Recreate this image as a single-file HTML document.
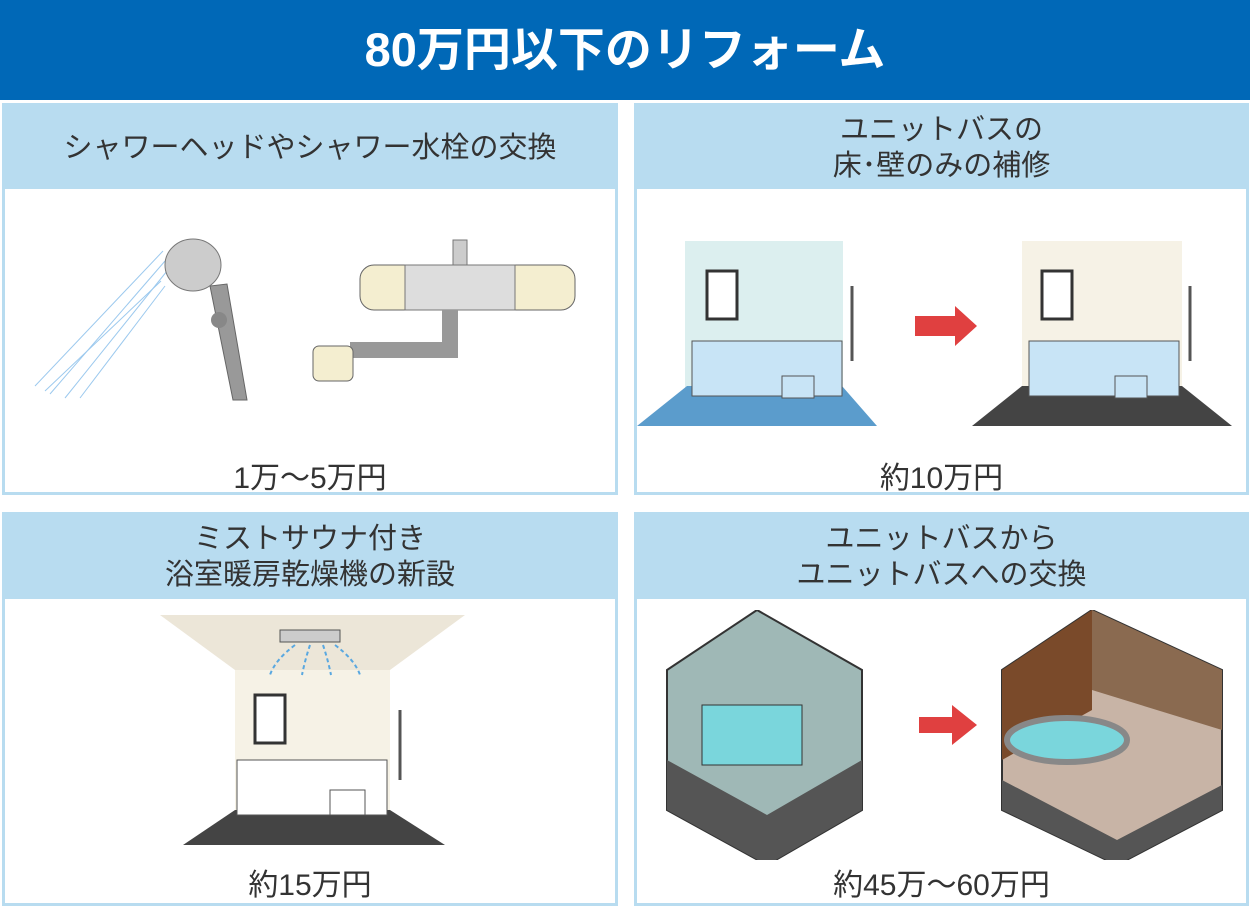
<!DOCTYPE html>
<html><head><meta charset="utf-8"><style>
body{margin:0;width:1250px;height:912px;background:#fff;position:relative;overflow:hidden;font-family:"Liberation Sans","Noto Sans CJK JP",sans-serif;color:#333}
.title{position:absolute;left:0;top:0;width:1250px;height:100px;background:#0068b7;color:#fff;font-weight:bold;font-size:47px;line-height:100px;text-align:center}
.p{position:absolute;border:3px solid #b8dcf0;box-sizing:border-box;background:#fff}
.h{position:absolute;left:0;top:0;right:0;background:#b8dcf0;display:flex;align-items:center;justify-content:center;text-align:center;font-size:29px;line-height:36px}
.pr{position:absolute;left:0;right:0;text-align:center;font-size:30px}
svg{position:absolute;left:0}
</style></head><body>
<div class="title">80万円以下のリフォーム</div>

<div class="p" style="left:2px;top:103px;width:616px;height:392px">
<div class="h" style="height:83px">シャワーヘッドやシャワー水栓の交換</div>
<svg width="610" height="220" style="top:120px">
<g stroke="#9cc9ee" stroke-width="1">
<line x1="158" y1="25" x2="30" y2="160"/><line x1="160" y1="35" x2="45" y2="168"/><line x1="162" y1="45" x2="60" y2="172"/><line x1="156" y1="55" x2="40" y2="165"/><line x1="160" y1="60" x2="75" y2="172"/>
</g>
<path d="M205 60 L228 174 L242 174 L222 58 Z" fill="#999" stroke="#666"/>
<ellipse cx="188" cy="39" rx="28" ry="26" fill="#ccc" stroke="#777"/>
<circle cx="214" cy="94" r="8" fill="#888"/>
<rect x="448" y="14" width="14" height="28" fill="#ccc" stroke="#777"/>
<rect x="355" y="39" width="215" height="45" rx="14" fill="#f4eed0" stroke="#666"/>
<rect x="400" y="39" width="110" height="45" fill="#ddd" stroke="#777"/>
<path d="M445 84 v40 h-100" fill="none" stroke="#999" stroke-width="16"/>
<rect x="308" y="120" width="40" height="35" rx="6" fill="#f4eed0" stroke="#666"/>
</svg>
<div class="pr" style="top:347px">1万〜5万円</div>
</div>

<div class="p" style="left:634px;top:103px;width:615px;height:392px">
<div class="h" style="height:83px">ユニットバスの<br>床･壁のみの補修</div>
<svg width="610" height="210" style="top:130px">
<rect x="48" y="5" width="158" height="150" fill="#dcefef"/>
<polygon points="50,150 205,150 240,190 0,190" fill="#5b9ccc"/>
<rect x="70" y="35" width="30" height="48" fill="#fff" stroke="#333" stroke-width="3"/>
<rect x="55" y="105" width="150" height="55" fill="#c8e4f6" stroke="#555"/>
<rect x="145" y="140" width="32" height="22" fill="#c8e4f6" stroke="#555"/>
<path d="M215 50 v75" stroke="#555" stroke-width="3"/>
<polygon points="278,80 318,80 318,70 340,90 318,110 318,100 278,100" fill="#e04040"/>
<rect x="385" y="5" width="160" height="150" fill="#f6f2e6"/>
<polygon points="385,150 545,150 595,190 335,190" fill="#444"/>
<rect x="405" y="35" width="30" height="48" fill="#fff" stroke="#333" stroke-width="3"/>
<rect x="392" y="105" width="150" height="55" fill="#c8e4f6" stroke="#555"/>
<rect x="478" y="140" width="32" height="22" fill="#c8e4f6" stroke="#555"/>
<path d="M553 50 v75" stroke="#555" stroke-width="3"/>
</svg>
<div class="pr" style="top:347px">約10万円</div>
</div>

<div class="p" style="left:2px;top:512px;width:616px;height:394px">
<div class="h" style="height:84px">ミストサウナ付き<br>浴室暖房乾燥機の新設</div>
<svg width="610" height="250" style="top:100px">
<polygon points="155,0 460,0 385,55 230,55" fill="#ece6d8"/>
<rect x="230" y="55" width="155" height="175" fill="#f6f2e6"/>
<polygon points="230,195 385,195 440,230 178,230" fill="#444"/>
<rect x="275" y="15" width="60" height="12" fill="#ccc" stroke="#555"/>
<g stroke="#5aa8e0" stroke-width="2" fill="none" stroke-dasharray="4 3"><path d="M290 30 q-20 15 -25 30"/><path d="M305 30 q-5 15 -8 30"/><path d="M318 30 q5 15 8 30"/><path d="M330 30 q20 15 25 30"/></g>
<rect x="250" y="80" width="30" height="48" fill="#fff" stroke="#333" stroke-width="3"/>
<rect x="232" y="145" width="150" height="55" fill="#fff" stroke="#555"/>
<rect x="325" y="175" width="35" height="25" fill="#fff" stroke="#555"/>
<path d="M395 95 v70" stroke="#555" stroke-width="3"/>
</svg>
<div class="pr" style="top:345px">約15万円</div>
</div>

<div class="p" style="left:634px;top:512px;width:615px;height:394px">
<div class="h" style="height:84px">ユニットバスから<br>ユニットバスへの交換</div>
<svg width="610" height="250" style="top:95px">
<polygon points="30,60 120,0 225,60 225,200 130,255 30,200" fill="#9fb8b6" stroke="#333" stroke-width="2"/>
<polygon points="30,150 130,205 225,150 225,200 130,255 30,200" fill="#555"/>
<rect x="65" y="95" width="100" height="60" fill="#7ad6dc" stroke="#333"/>
<polygon points="282,107 315,107 315,95 340,115 315,135 315,123 282,123" fill="#e04040"/>
<polygon points="365,60 455,0 585,60 585,200 480,255 365,200" fill="#c8b4a6" stroke="#333" stroke-width="2"/>
<polygon points="365,60 455,0 455,100 365,150" fill="#7a4a2a"/>
<polygon points="455,0 585,60 585,120 455,80" fill="#8a6a50"/>
<ellipse cx="430" cy="130" rx="60" ry="22" fill="#7ad6dc" stroke="#888" stroke-width="6"/>
<polygon points="365,170 480,230 585,175 585,200 480,255 365,200" fill="#555"/>
</svg>
<div class="pr" style="top:345px">約45万〜60万円</div>
</div>
</body></html>
